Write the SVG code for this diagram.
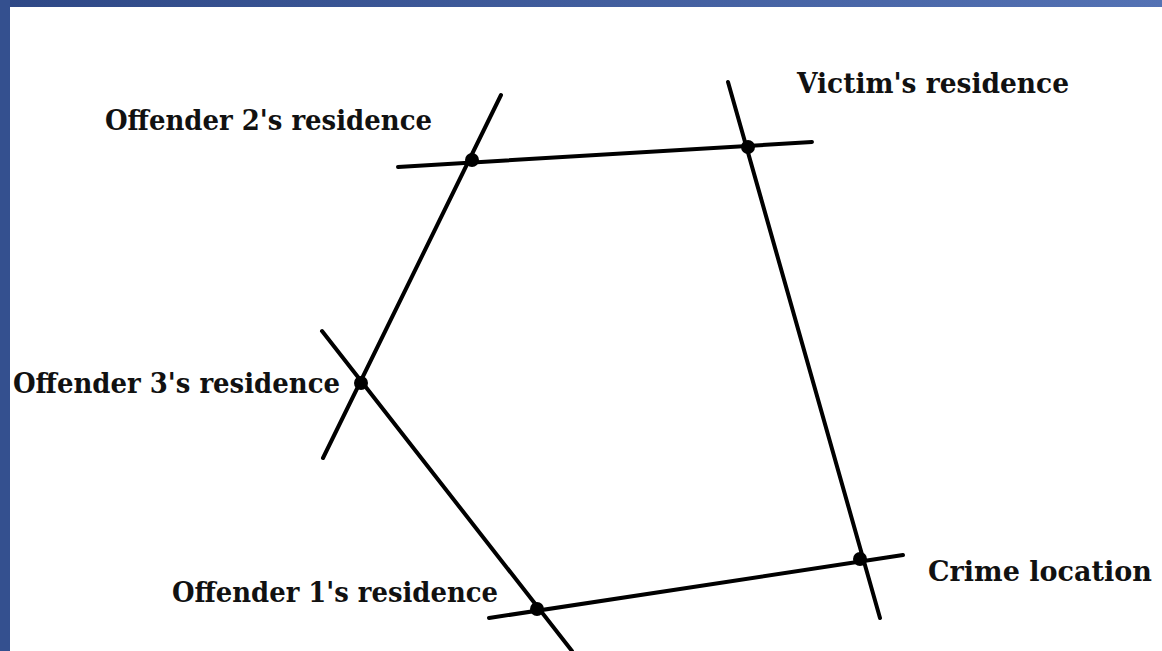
<svg xmlns="http://www.w3.org/2000/svg" width="1162" height="651" viewBox="0 0 1162 651">
<defs>
<linearGradient id="topg" x1="0" y1="0" x2="1" y2="0">
<stop offset="0" stop-color="#2e4886"/>
<stop offset="1" stop-color="#5472b4"/>
</linearGradient>
<style>
.ln{stroke:#000;stroke-width:4;stroke-linecap:round;fill:none}
.dot{fill:#000}
.lbl{font-family:"DejaVu Serif","Liberation Serif",serif;font-weight:bold;font-size:27px;fill:#111}
</style>
</defs>
<rect x="0" y="0" width="1162" height="651" fill="#ffffff"/>
<rect x="0" y="0" width="1162" height="7" fill="url(#topg)"/>
<rect x="0" y="0" width="10" height="651" fill="#34508f"/>
<g id="connectors">
<line class="ln" x1="501" y1="95" x2="323" y2="458"/>
<line class="ln" x1="398" y1="167" x2="812" y2="142"/>
<line class="ln" x1="728" y1="82" x2="880" y2="618"/>
<line class="ln" x1="489" y1="618" x2="903" y2="555"/>
<line class="ln" x1="322" y1="331" x2="572" y2="651"/>
</g>
<g id="offender2"><circle class="dot" cx="472" cy="160" r="7"/><text class="lbl" x="105" y="130" textLength="327" lengthAdjust="spacingAndGlyphs">Offender 2's residence</text></g>
<g id="victim"><circle class="dot" cx="748" cy="147" r="7"/><text class="lbl" x="797" y="93" textLength="272" lengthAdjust="spacingAndGlyphs">Victim's residence</text></g>
<g id="offender3"><circle class="dot" cx="361" cy="383" r="7"/><text class="lbl" x="13" y="393" textLength="327" lengthAdjust="spacingAndGlyphs">Offender 3's residence</text></g>
<g id="offender1"><circle class="dot" cx="537" cy="609" r="7"/><text class="lbl" x="172" y="602" textLength="326" lengthAdjust="spacingAndGlyphs">Offender 1's residence</text></g>
<g id="crime"><circle class="dot" cx="860" cy="559" r="7"/><text class="lbl" x="928" y="581" textLength="224" lengthAdjust="spacingAndGlyphs">Crime location</text></g>
</svg>
